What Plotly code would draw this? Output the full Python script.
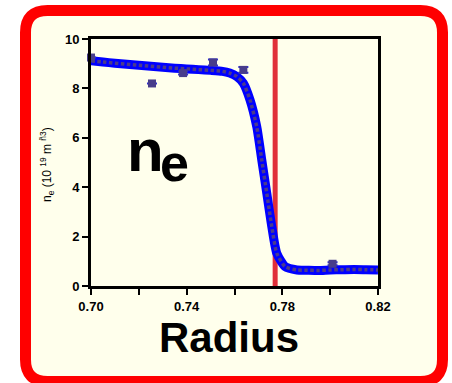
import plotly.graph_objects as go

# ---- data ----
fit_r = [0.700, 0.705, 0.710, 0.715, 0.720, 0.725, 0.730, 0.735, 0.740, 0.745,
         0.750, 0.755, 0.758, 0.761, 0.7637, 0.7665, 0.7693, 0.7714, 0.7735,
         0.7756, 0.7777, 0.7812, 0.7861, 0.790, 0.795, 0.800, 0.805, 0.810,
         0.815, 0.820]
fit_ne = [9.12, 9.07, 9.02, 8.98, 8.94, 8.90, 8.86, 8.82, 8.79, 8.76,
          8.73, 8.69, 8.62, 8.48, 8.21, 7.53, 6.45, 5.10, 3.75,
          2.40, 1.32, 0.78, 0.65, 0.64, 0.63, 0.65, 0.66, 0.67,
          0.66, 0.65]

meas_r = [0.700, 0.7255, 0.7385, 0.751, 0.7637, 0.801]
meas_ne = [9.25, 8.20, 8.62, 9.05, 8.75, 0.90]
meas_err = [0.0, 0.0, 0.06, 0.12, 0.12, 0.06]

sep_r = 0.777

x_tickvals = [0.70, 0.72, 0.74, 0.76, 0.78, 0.80, 0.82]
x_ticktext = ["0.70", "", "0.74", "", "0.78", "", "0.82"]
y_tickvals = [0, 2, 4, 6, 8, 10]
y_ticktext = ["0", "2", "4", "6", "8", "10"]

# ---- layout geometry (pixels) ----
W, H = 452, 383
L, R, T, B = 91, 378, 39, 286
IVORY = "#FFFFEC"
FONT = "Liberation Sans Narrow, Arial Narrow, Liberation Sans, Arial"


def px(x):
    return (x - L) / (R - L)


def py(y):
    return (B - y) / (B - T)


def rounded_path(x0, y0, x1, y1, r):
    pts = [
        ("M", [(x0 + r, y0)]),
        ("L", [(x1 - r, y0)]),
        ("Q", [(x1, y0), (x1, y0 + r)]),
        ("L", [(x1, y1 - r)]),
        ("Q", [(x1, y1), (x1 - r, y1)]),
        ("L", [(x0 + r, y1)]),
        ("Q", [(x0, y1), (x0, y1 - r)]),
        ("L", [(x0, y0 + r)]),
        ("Q", [(x0, y0), (x0 + r, y0)]),
    ]
    s = ""
    for cmd, ps in pts:
        s += cmd + " " + " ".join(f"{px(a):.5f},{py(b):.5f}" for a, b in ps) + " "
    return s + "Z"


fig = go.Figure()

fig.add_trace(go.Scatter(
    x=fit_r, y=fit_ne, mode="lines",
    line=dict(color="#0000FF", width=9, shape="spline", smoothing=0.6),
    hoverinfo="skip", showlegend=False, cliponaxis=False,
))
fig.add_trace(go.Scatter(
    x=fit_r, y=fit_ne, mode="lines",
    line=dict(color="#4B3C8C", width=3.5, shape="spline", smoothing=0.6, dash="3.5px,2.5px"),
    hoverinfo="skip", showlegend=False, cliponaxis=False,
))
fig.add_trace(go.Scatter(
    x=meas_r, y=meas_ne, mode="markers",
    marker=dict(symbol="square", size=8, color="#483D8B"),
    error_y=dict(type="data", array=meas_err, color="#2B2BD0", thickness=2, width=5),
    showlegend=False, cliponaxis=False,
))

shapes = [
    dict(type="path", xref="paper", yref="paper", layer="below",
         path=rounded_path(25.5, 10.5, 442.5, 381.5, 22),
         fillcolor=IVORY, line=dict(color="#FF0000", width=11)),
    dict(type="line", xref="x", yref="y", layer="below",
         x0=sep_r, x1=sep_r, y0=0, y1=10,
         line=dict(color="#E0303A", width=5)),
]

annotations = [
    dict(text="n", x=px(125), y=py(150), xref="paper", yref="paper",
         xanchor="left", yanchor="middle", showarrow=False,
         font=dict(family=FONT, size=60, color="black", weight="bold")),
    dict(text="e", x=px(158), y=py(163), xref="paper", yref="paper",
         xanchor="left", yanchor="middle", showarrow=False,
         font=dict(family=FONT, size=52, color="black", weight="bold")),
    dict(text="Radius", x=px(229), y=py(337), xref="paper", yref="paper",
         xanchor="center", yanchor="middle", showarrow=False,
         font=dict(family=FONT, size=42, color="black", weight="bold")),
    dict(text="n<sub>e</sub> (10 <sup>19</sup> m <sup>ñ3</sup>)",
         x=px(47), y=py(165), xref="paper", yref="paper",
         xanchor="center", yanchor="middle", showarrow=False, textangle=-90,
         font=dict(family=FONT, size=12, color="black")),
]

fig.update_layout(
    width=W, height=H,
    margin=dict(l=L, r=W - R, t=T, b=H - B, pad=0),
    paper_bgcolor="white",
    plot_bgcolor="rgba(0,0,0,0)",
    shapes=shapes,
    annotations=annotations,
    xaxis=dict(range=[0.70, 0.82], tickvals=x_tickvals, ticktext=x_ticktext,
               showgrid=False, zeroline=False, showline=True, linecolor="black",
               linewidth=3, mirror=True, ticks="outside", ticklen=6, tickwidth=2,
               tickcolor="black",
               tickfont=dict(family=FONT, size=13, color="black", weight="bold")),
    yaxis=dict(range=[0, 10], tickvals=y_tickvals, ticktext=y_ticktext,
               showgrid=False, zeroline=False, showline=True, linecolor="black",
               linewidth=3, mirror=True, ticks="outside", ticklen=6, tickwidth=2,
               tickcolor="black",
               tickfont=dict(family=FONT, size=13, color="black", weight="bold")),
)

fig.write_html("out.html", config={"displayModeBar": False},
               post_script="document.body.style.margin='0';")
